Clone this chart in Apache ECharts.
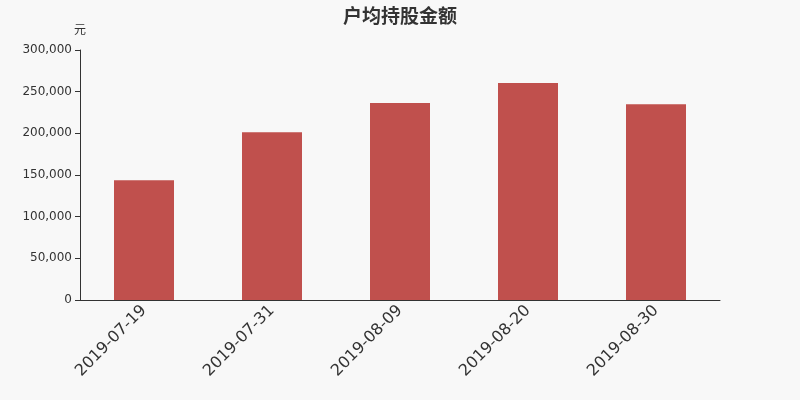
<!DOCTYPE html>
<html>
    <head>
        <meta charset="utf-8">
        <title>户均持股金额</title>
        <script src="https://cdn.jsdelivr.net/npm/echarts@6/dist/echarts.min.js"></script>
        <style>
            html, body { margin: 0; padding: 0; background: #f8f8f8; }
        </style>
    </head>
    <body>
        <div id="main" style="width: 800px;height:400px;"></div>

        <script type="text/javascript">
            // 数据
            var dates = ['2019-07-19', '2019-07-31', '2019-08-09', '2019-08-20', '2019-08-30'];
            var amounts = [143600, 201200, 236400, 260400, 234800];
            var yTicks = [0, 50000, 100000, 150000, 200000, 250000, 300000];

            var myChart = echarts.init(document.getElementById('main'));
            myChart.setOption({
                backgroundColor: '#f8f8f8',
                animation: false,
                title: {
                    text: '户均持股金额',
                    left: 'center',
                    top: 1,
                    textStyle: { fontSize: 19, fontWeight: 'bold', color: '#333',
                                 fontFamily: 'Noto Sans CJK SC' }
                },
                grid: {
                    left: 80,
                    right: 80,
                    top: 50,
                    bottom: 100
                },
                xAxis: {
                    type: 'category',
                    data: dates,
                    axisLine: { lineStyle: { color: '#333' } },
                    axisTick: { alignWithLabel: false, lineStyle: { color: '#333' } },
                    axisLabel: { interval: 0, rotate: 45, fontSize: 16, color: '#333', margin: 8,
                                 fontFamily: 'DejaVu Sans' }
                },
                yAxis: {
                    type: 'value',
                    name: '元',
                    nameGap: 15,
                    nameTextStyle: { color: '#333', fontSize: 12,
                                     fontFamily: 'Noto Sans CJK SC' },
                    min: yTicks[0],
                    max: yTicks[yTicks.length - 1],
                    interval: 50000,
                    splitLine: { show: false },
                    axisLine: { show: true, lineStyle: { color: '#333' } },
                    axisTick: { show: true, lineStyle: { color: '#333' } },
                    axisLabel: {
                        color: '#333',
                        fontSize: 12,
                        fontFamily: 'DejaVu Sans',
                        formatter: function (v) { return v.toLocaleString('en-US'); }
                    }
                },
                series: [{
                    name: '户均持股金额',
                    type: 'bar',
                    barWidth: 60,
                    itemStyle: { color: '#c0504d' },
                    data: amounts
                }]
            });
        </script>
    </body>
</html>
